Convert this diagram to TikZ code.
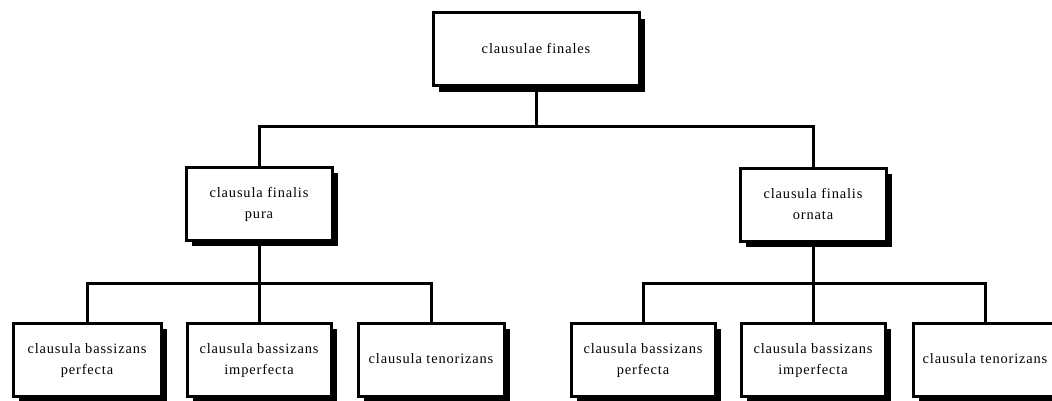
\documentclass[tikz,border=0pt]{standalone}
\usepackage{fontspec}
\setmainfont[LetterSpace=6]{Liberation Serif}
\usetikzlibrary{shadows}
% centred text block, set a little below the box centre
\newcommand{\boxtext}[1]{\raisebox{-3pt}{\begin{tabular}{@{}c@{}}#1\end{tabular}}}
\begin{document}
\begin{tikzpicture}[x=1pt,y=-1pt,
  box/.style={draw=black, line width=3pt, fill=white, inner sep=0pt,
    font=\fontsize{14.4}{21.5}\selectfont,
    drop shadow={shadow xshift=6pt, shadow yshift=-6pt, opacity=1, fill=black}},
  wide/.style={box, minimum width=206pt, minimum height=73pt},
  mid/.style={box, minimum width=146pt, minimum height=73pt},
  link/.style={line width=3pt}]
\useasboundingbox (0,0) rectangle (1052,401);
\clip (0,0) rectangle (1052,401);

% root
\node[wide] (root) at (536,49.5) {\boxtext{clausulae finales}};

% second level
\node[mid] (pura)   at (259,203.5) {\boxtext{clausula finalis\\pura}};
\node[mid] (ornata) at (813,204.5) {\boxtext{clausula finalis\\ornata}};

% leaves
\node[mid, minimum width=148pt] (lp) at (87,359.5)  {\boxtext{clausula bassizans\\perfecta}};
\node[mid, minimum width=144pt] (li) at (259,359.5) {\boxtext{clausula bassizans\\imperfecta}};
\node[mid, minimum width=146pt] (lt) at (431,359.5) {\boxtext{clausula tenorizans}};
\node[mid, minimum width=144pt] (rp) at (643,359.5) {\boxtext{clausula bassizans\\perfecta}};
\node[mid, minimum width=144pt] (ri) at (813,359.5) {\boxtext{clausula bassizans\\imperfecta}};
\node[mid, minimum width=144pt] (rt) at (985,359.5) {\boxtext{clausula tenorizans}};

% junction points
\coordinate (j0) at (536,127);
\coordinate (jl) at (259,283);
\coordinate (jr) at (813,283);

% connectors
\draw[link] (root.south) -- (j0);
\draw[link] (pura.north) |- (j0) -| (ornata.north);

\draw[link] (pura.south) -- (jl);
\draw[link] (lp.north) |- (jl) -| (lt.north);
\draw[link] (li.north) -- (jl);

\draw[link] (ornata.south) -- (jr);
\draw[link] (rp.north) |- (jr) -| (rt.north);
\draw[link] (ri.north) -- (jr);
\end{tikzpicture}
\end{document}
